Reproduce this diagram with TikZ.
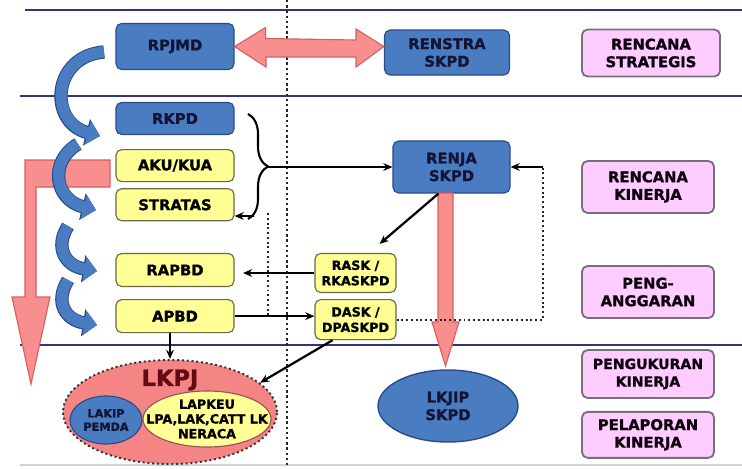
\documentclass[tikz,border=0pt]{standalone}
\usepackage{fontspec}
\setsansfont{DejaVu Sans}[BoldFeatures={FakeBold=1.2}]
\usetikzlibrary{positioning, calc, arrows.meta, shapes.geometric, decorations.pathreplacing}
\definecolor{rulec}{RGB}{55,50,125}
\definecolor{bluef}{RGB}{74,124,194}
\definecolor{blued}{RGB}{42,76,135}
\definecolor{yellf}{RGB}{255,255,150}
\definecolor{yelld}{RGB}{105,105,70}
\definecolor{pinkf}{RGB}{255,204,255}
\definecolor{pinkd}{RGB}{118,112,124}
\definecolor{salmon}{RGB}{248,142,142}
\definecolor{salmond}{RGB}{212,96,96}
\definecolor{lkpjc}{RGB}{245,132,132}
\definecolor{darkred}{RGB}{100,10,20}
\definecolor{navy}{RGB}{20,20,55}

\begin{document}
\begin{tikzpicture}[
      x=0.025cm, y=-0.025cm,
      every node/.style = {font=\sffamily\bfseries\fontsize{10.5}{12.5}\selectfont, align=center},
      box/.style = {rectangle, rounded corners=4pt, draw, line width=0.8pt, inner sep=1pt},
      cplan/.style   = {box, fill=bluef, draw=blued, text=navy},
      cbudget/.style = {box, fill=yellf, draw=yelld},
      cphase/.style  = {box, fill=pinkf, draw=pinkd, line width=1.3pt, text=black!90!violet,
                        minimum width=3.3cm, minimum height=1.3cm},
      colw/.style    = {minimum width=2.95cm, minimum height=0.8cm},
      small/.style   = {font=\sffamily\bfseries\fontsize{9}{11}\selectfont},
      rule/.style    = {rulec, line width=1.8pt},
      dotline/.style = {dotted, line width=1.4pt, black!85},
      arr/.style = {-{Stealth[length=6.5pt, width=5.5pt]}, line width=1.6pt, black},
      swirl/.style = {draw=bluef, line width=8pt, -{Triangle[length=9pt, width=17pt]},
                      preaction={draw=blued, line width=9.5pt, -{Triangle[length=10pt, width=19pt]}}},
    ]
    \fill[white] (0,0) rectangle (742,468);
    \useasboundingbox (0,0) rectangle (742,468);
    \draw[rule] (25,10) -- (742,10);
    \draw[rule] (20,96) -- (742,96);
    \draw[rule] (20,345) -- (742,345);
    \draw[gray!35, line width=1pt] (20,465) -- (742,465);
    \draw[dotline, line width=1.7pt] (287,0) -- (287,468);

    \node[cplan, colw, minimum height=1.15cm] (rpjmd) at (175,46.5) {RPJMD};
    \node[cplan, minimum width=3.125cm, minimum height=1.125cm] (renstra) at (447,52.5) {RENSTRA\\SKPD};
    \node[cphase, minimum width=3.45cm, minimum height=1.175cm] (strat) at (651,53) {RENCANA\\STRATEGIS};
    \node[cplan, colw] (rkpd) at (175,118.5) {RKPD};
    \node[cbudget, colw, below=0.35cm of rkpd] (kua) {AKU/KUA};
    \node[cbudget, colw, below=0.15cm of kua] (stratas) {STRATAS};
    \node[cplan, minimum width=2.925cm, minimum height=1.3cm] (renja) at (451.5,167) {RENJA\\SKPD};
    \node[cphase] (kinerja) at (648,187) {RENCANA\\KINERJA};
    \node[cbudget, colw, minimum height=0.825cm] (rapbd) at (175,270) {RAPBD};
    \node[cbudget, colw, minimum height=0.825cm, below=0.3cm of rapbd] (apbd) {APBD};
    \node[cbudget, small, minimum width=2.025cm, minimum height=0.975cm] (rask) at (355.5,273) {RASK /\\RKASKPD};
    \node[cbudget, small, minimum width=2.025cm, minimum height=1.0cm, below=0.15cm of rask] (dask) {DASK /\\DPASKPD};
    \node[cphase] (angg) at (648,292) {PENG-\\ANGGARAN};
    \node[cphase, minimum height=1.2cm, font=\sffamily\bfseries\fontsize{10}{12.5}\selectfont] (ukur) at (648,374) {PENGUKURAN\\KINERJA};
    \node[cphase, minimum height=1.15cm, below=0.3cm of ukur] (lapor) {PELAPORAN\\KINERJA};

    \node[ellipse, fill=lkpjc, draw=black!80, dotted, line width=1.4pt,
          minimum width=5.35cm, minimum height=2.6cm] (lkpj) at (170,412) {};
    \node[text=darkred, font=\sffamily\bfseries\fontsize{16}{18}\selectfont]
      (lkpjlbl) at ($(lkpj.north)+(0,21)$) {LKPJ};
    \node[ellipse, fill=bluef, draw=blued, line width=0.8pt,
          minimum width=1.8cm, minimum height=1.2cm] (lakip) at (106,420) {};
    \node[text=navy, font=\sffamily\bfseries\fontsize{8}{9.5}\selectfont] at (lakip) {LAKIP\\PEMDA};
    \node[ellipse, fill=yellf, draw=darkred!70, line width=0.8pt,
          minimum width=3.2cm, minimum height=1.4cm] (lapkeu) at (207,419) {};
    \node[font=\sffamily\bfseries\fontsize{9}{10.5}\selectfont] at (lapkeu) {LAPKEU\\LPA,LAK,CATT LK\\NERACA};
    \node[ellipse, fill=bluef, draw=blued, line width=1pt, text=navy,
          minimum width=3.5cm, minimum height=1.8cm] (lkjip) at (448,406) {LKJIP\\SKPD};

    \fill[salmon, draw=salmond, line width=0.8pt]
      (rpjmd.east) -- ++(31,-19) -- ++(0,11) -- (356,40) -- (356,29) -- (renstra.west |- rpjmd.east)
      -- (356,67) -- (356,57) -- (266,57) -- (266,67) -- cycle;
    \fill[salmon, draw=salmond, line width=0.8pt]
      (25,160) -- (110,160) -- (110,187) -- (36,187) -- (36,297) -- (50,297)
      -- (31,384) -- (12,297) -- (25,297) -- cycle;
    \fill[salmon, draw=salmond, line width=0.8pt]
      (438,193) -- (453,193) -- (453,322) -- (459,322) -- (445.5,366) -- (432,322) -- (438,322) -- cycle;

    \draw[swirl] (104,52) .. controls (52,56) and (48,122) .. (100,136);
    \draw[swirl] (78,144) .. controls (48,162) and (55,200) .. (96,210);
    \draw[swirl] (68,226) .. controls (54,248) and (66,266) .. (97,271);
    \draw[swirl] (68,280) .. controls (54,303) and (66,320) .. (97,325);

    \draw[line width=1.5pt, decorate, decoration={brace, amplitude=0.5cm}] (248,114) -- (248,219);
    \coordinate (btip) at (268,167);
    \coordinate (bbot) at (254,216);
    \draw[arr] (btip) -- (renja.west);
    \draw[arr] (bbot) -- (bbot -| stratas.east);
    \coordinate (dtop) at (268,213);
    \draw[dotline] (dtop) -- (dtop |- apbd.east);
    \coordinate (loopx) at (543,0);
    \draw[dotline] (dask.east) -| (loopx |- renja.east);
    \draw[arr] (loopx |- renja.east) -- (renja.east);
    \draw[arr] ($(renja.south)+(-13,0)$) -- ($(rask.north east)+(-17,-9)$);
    \draw[arr, shorten >=6pt] (rask.west) -- (rask.west -| rapbd.east);
    \draw[arr] (apbd.east) -- (apbd.east -| dask.west);
    \draw[arr] (apbd.south -| lkpj.north) -- (lkpj.north);
    \draw[arr] ($(dask.south)+(-23,0)$) -- (lkpj.18);
    \end{tikzpicture}
\end{document}
